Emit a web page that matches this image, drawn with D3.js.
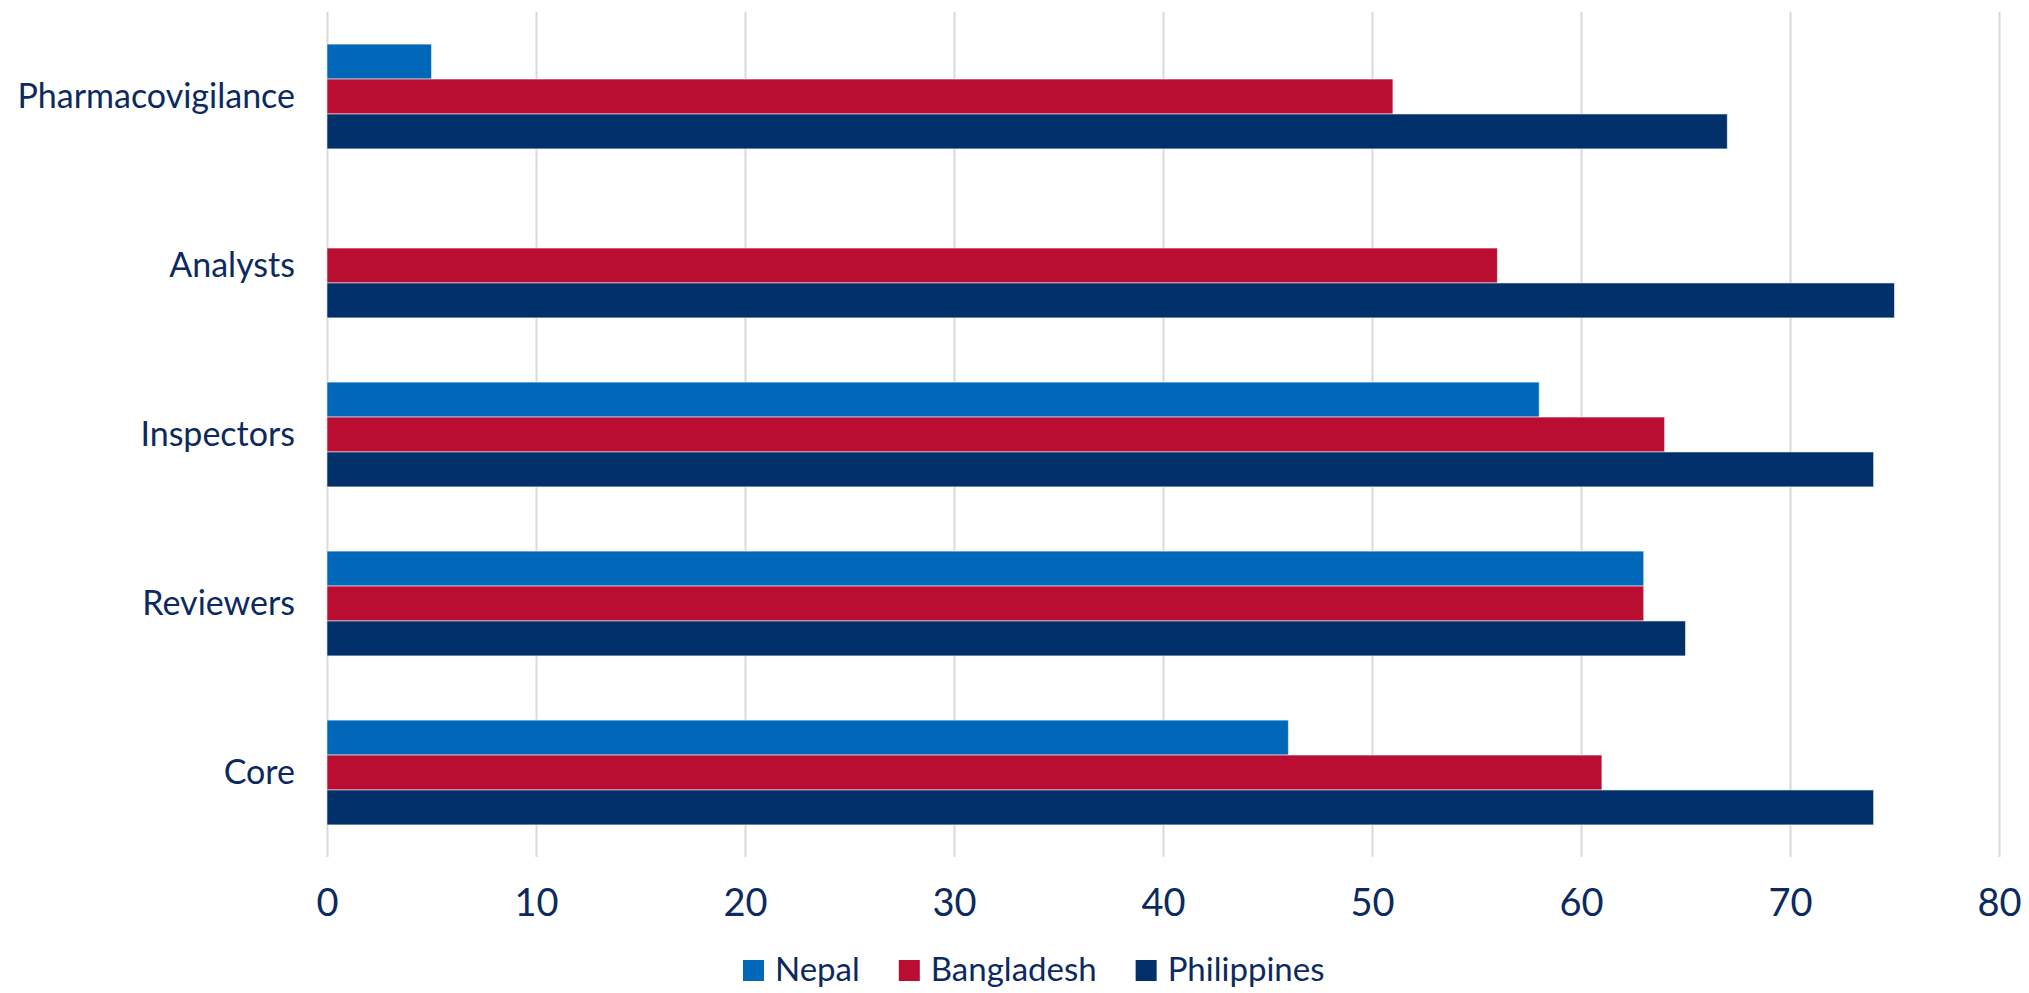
<!DOCTYPE html>
<html>
<head>
<meta charset="utf-8">
<script src="https://cdn.jsdelivr.net/npm/d3@7"></script>
<style>
  html, body { margin: 0; padding: 0; background: #ffffff; }
  svg { display: block; }
  text { font-family: Lato, "Open Sans", sans-serif; fill: #0c2a60; }
</style>
</head>
<body>
<svg id="chart" width="2029" height="993"></svg>
<script>
// ---- data ----
const categories = ["Pharmacovigilance", "Analysts", "Inspectors", "Reviewers", "Core"];
const seriesNames = ["Nepal", "Bangladesh", "Philippines"];
const nepal       = [5, 0, 58, 63, 46];
const bangladesh  = [51, 56, 64, 63, 61];
const philippines = [67, 75, 74, 65, 74];
const xTicks = [0, 10, 20, 30, 40, 50, 60, 70, 80];
const seriesColors = ["#0067b9", "#b90e31", "#02306b"];

const seriesValues = [nepal, bangladesh, philippines];

// ---- layout ----
const W = 2029, H = 993;
const margin = { left: 327, right: 30, top: 12, bottom: 136 };
const plotRight = 1999;
const plotBottom = 857;

const svg = d3.select("#chart");

const x = d3.scaleLinear().domain([0, 80]).range([margin.left, plotRight]);
const y = d3.scaleBand().domain(categories).range([margin.top, plotBottom])
  .paddingInner(0.38).paddingOuter(0.19);
const ySub = d3.scaleBand().domain(seriesNames).range([0, y.bandwidth()]);
const color = d3.scaleOrdinal().domain(seriesNames).range(seriesColors);

// gridlines
const grid = svg.append("g")
  .attr("transform", `translate(0,${plotBottom})`)
  .call(d3.axisBottom(x).tickValues(xTicks).tickSize(-(plotBottom - margin.top)).tickFormat(""));
grid.select(".domain").remove();
grid.selectAll("line").attr("stroke", "#d9d9d9").attr("stroke-width", 2);

// bars
const rows = categories.map((c, i) => ({
  cat: c,
  vals: seriesNames.map((s, j) => ({ series: s, value: seriesValues[j][i] }))
}));

const groups = svg.append("g").selectAll("g")
  .data(rows).join("g")
  .attr("transform", d => `translate(0,${y(d.cat)})`);

groups.selectAll("rect")
  .data(d => d.vals.filter(v => v.value > 0))
  .join("rect")
  .attr("x", x(0))
  .attr("y", d => ySub(d.series))
  .attr("width", d => x(d.value) - x(0))
  .attr("height", ySub.bandwidth())
  .attr("fill", d => color(d.series))
  .attr("stroke", "rgba(255,255,255,0.55)")
  .attr("stroke-width", 1);

// x axis labels
const xAxis = svg.append("g")
  .attr("transform", `translate(0,${plotBottom})`)
  .call(d3.axisBottom(x).tickValues(xTicks).tickSize(0).tickPadding(0).tickFormat(d3.format("d")));
xAxis.select(".domain").remove();
xAxis.selectAll("text")
  .attr("y", 59).attr("dy", null)
  .style("font-family", "Lato, 'Open Sans', sans-serif")
  .style("font-size", "38px")
  .attr("fill", "#0c2a60");

// y axis labels
const yAxis = svg.append("g")
  .attr("transform", `translate(${margin.left},0)`)
  .call(d3.axisLeft(y).tickSize(0).tickPadding(32));
yAxis.select(".domain").remove();
yAxis.selectAll("text")
  .attr("dy", "0.35em")
  .style("font-family", "Lato, 'Open Sans', sans-serif")
  .style("font-size", "34px")
  .attr("fill", "#0c2a60");

// legend
const legend = svg.append("g");
const sq = 21, gapText = 11, gapItem = 39;
let lx = 743;
seriesNames.forEach((s, i) => {
  const g = legend.append("g").attr("transform", `translate(${lx},0)`);
  g.append("rect").attr("x", 0).attr("y", 960).attr("width", sq).attr("height", sq)
    .attr("fill", seriesColors[i]);
  const t = g.append("text").attr("x", sq + gapText).attr("y", 981)
    .style("font-size", "33px").text(s);
  lx += sq + gapText + t.node().getComputedTextLength() + gapItem;
});
</script>
</body>
</html>
